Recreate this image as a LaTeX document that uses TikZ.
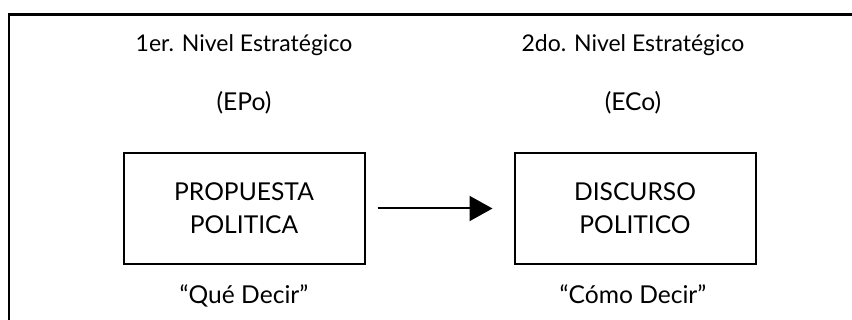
\documentclass[tikz,border=0pt]{standalone}
\usepackage{fontspec}
\setmainfont{Lato}
\usetikzlibrary{arrows.meta}

\tikzset{
  nivelbox/.style={draw,line width=1pt,minimum width=120.5pt,minimum height=55.5pt,
    align=center,font=\fontsize{12.3}{16.5}\selectfont,inner sep=0pt},
  nivellbl/.style={anchor=base,font=\fontsize{12.3}{14}\selectfont,inner sep=0pt},
  nivelttl/.style={nivellbl,font=\fontsize{11.5}{14}\selectfont}
}

\begin{document}
\begin{tikzpicture}[x=0.5pt,y=-0.5pt]

  % page size (852 x 320 px)
  \useasboundingbox (0,0) rectangle (852,320);

  % outer frame (runs off the right and bottom edges)
  \begin{scope}
    \clip (0,0) rectangle (852,320);
    \draw[line width=1.3pt] (9,14.5) rectangle (880,350);
  \end{scope}

  % column centres
  \def\xA{244}
  \def\xB{633}

  %==========================
  % 1er. nivel (EPo)
  %==========================
  \node[nivelttl] (tituloA) at (\xA,52) {1er. Nivel Estratégico};
  \node[nivellbl] (siglaA)  at (\xA,111) {(EPo)};
  \node[nivelbox] (propuesta) at (\xA,208.5) {PROPUESTA\\POLITICA};
  \node[nivellbl] (queA)    at (\xA,304) {“Qué Decir”};

  %==========================
  % 2do. nivel (ECo)
  %==========================
  \node[nivelttl] (tituloB) at (\xB,52) {2do. Nivel Estratégico};
  \node[nivellbl] (siglaB)  at (\xB,111) {(ECo)};
  \node[nivelbox] (discurso) at (635,208.5) {DISCURSO\\POLITICO};
  \node[nivellbl] (comoB)   at (\xB,304) {“Cómo Decir”};

  % arrow between levels
  \draw[line width=1pt,-{Triangle[length=11.5pt,width=12.5pt]},
        shorten <=6pt,shorten >=10.5pt] (propuesta) -- (discurso);

\end{tikzpicture}
\end{document}
